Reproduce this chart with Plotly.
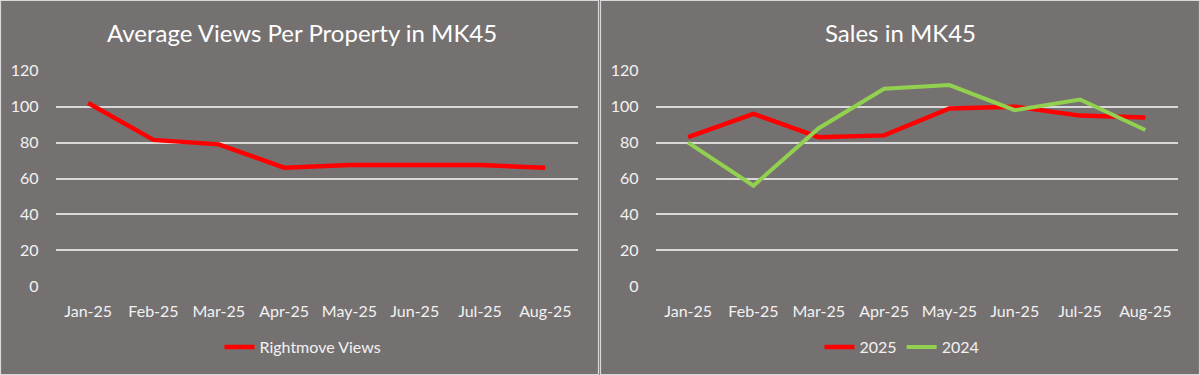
import plotly.graph_objects as go

months = ["Jan-25", "Feb-25", "Mar-25", "Apr-25", "May-25", "Jun-25", "Jul-25", "Aug-25"]
rightmove_views = [102, 81.5, 79, 66, 67.5, 67.5, 67.5, 66]
sales_2025 = [83, 96, 83, 84, 99, 100, 95, 94]
sales_2024 = [80, 56, 88, 110, 112, 98, 104, 87]
y_ticks = [0, 20, 40, 60, 80, 100, 120]

title_left = "Average Views Per Property in MK45"
title_right = "Sales in MK45"

BG = "#767171"
TXT = "#F2F2F2"
GRID = "#D9D9D9"
FONT = "Lato"
W, H = 1200, 375

fig = go.Figure()
fig.add_trace(go.Scatter(x=months, y=rightmove_views, mode="lines", name="Rightmove Views",
                         line=dict(color="#FF0000", width=4.5), xaxis="x", yaxis="y", legend="legend"))
fig.add_trace(go.Scatter(x=months, y=sales_2025, mode="lines", name="2025",
                         line=dict(color="#FF0000", width=4.5), xaxis="x2", yaxis="y2", legend="legend2"))
fig.add_trace(go.Scatter(x=months, y=sales_2024, mode="lines", name="2024",
                         line=dict(color="#92D050", width=4), xaxis="x2", yaxis="y2", legend="legend2"))

ydom = [1 - 286.3 / H, 1 - 70.7 / H]
xaxis_common = dict(type="category", range=[-0.5, 7.5], showgrid=False, zeroline=False, showline=False,
                    ticks="", automargin=False,
                    tickfont=dict(color=TXT, size=16, family=FONT), ticklabelstandoff=14,
                    fixedrange=True)
yaxis_common = dict(range=[0, 120], tickvals=y_ticks, showgrid=True, gridcolor=GRID, gridwidth=1.5,
                    zeroline=False, showline=False, ticks="", automargin=False,
                    tickfont=dict(color=TXT, size=16, family=FONT), ticklabelstandoff=16,
                    fixedrange=True)

legend_common = dict(orientation="h", xanchor="center", yanchor="middle",
                     font=dict(color=TXT, size=16, family=FONT), bgcolor="rgba(0,0,0,0)",
                     itemwidth=30)

fig.update_layout(
    template="none",
    width=W, height=H,
    autosize=False,
    margin=dict(l=0, r=0, t=0, b=0, pad=0),
    paper_bgcolor=BG, plot_bgcolor=BG,
    font=dict(family=FONT, color=TXT),
    xaxis=dict(domain=[55.5 / W, 578 / W], anchor="y", **xaxis_common),
    yaxis=dict(domain=ydom, anchor="x", **yaxis_common),
    xaxis2=dict(domain=[655.5 / W, 1178 / W], anchor="y2", **xaxis_common),
    yaxis2=dict(domain=ydom, anchor="x2", **yaxis_common),
    legend=dict(x=303 / W, y=1 - 347 / H, **legend_common),
    legend2=dict(x=902 / W, y=1 - 347 / H, **legend_common),
    annotations=[
        dict(text=title_left, x=302 / W, y=1 - 32 / H, xref="paper", yref="paper",
             xanchor="center", yanchor="middle", showarrow=False,
             font=dict(color="#FFFFFF", size=24, family=FONT)),
        dict(text=title_right, x=900 / W, y=1 - 32 / H, xref="paper", yref="paper",
             xanchor="center", yanchor="middle", showarrow=False,
             font=dict(color="#FFFFFF", size=24, family=FONT)),
    ],
    shapes=[
        dict(type="rect", xref="paper", yref="paper", x0=0.5 / W, x1=598.5 / W, y0=0.5 / H, y1=1 - 0.5 / H,
             line=dict(color=GRID, width=1.2)),
        dict(type="rect", xref="paper", yref="paper", x0=600.5 / W, x1=1199.5 / W, y0=0.5 / H, y1=1 - 0.5 / H,
             line=dict(color=GRID, width=1.2)),
    ],
    showlegend=True,
)

fig.write_html("out.html", config={"displayModeBar": False},
               post_script="document.body.style.margin='0';document.body.style.overflow='hidden';")
